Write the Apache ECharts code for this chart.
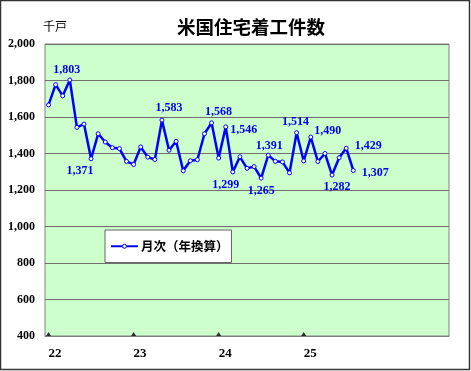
<!DOCTYPE html>
<html>
<head>
<meta charset="utf-8">
<script src="https://cdn.jsdelivr.net/npm/echarts@6/dist/echarts.min.js"></script>
<style>
html,body{margin:0;padding:0;background:#fff;}
#c{width:471px;height:371px;}
</style>
</head>
<body>
<div id="c"></div>
<script>
// ---- data ----
const months = [
  '22/1','22/2','22/3','22/4','22/5','22/6','22/7','22/8','22/9','22/10','22/11','22/12',
  '23/1','23/2','23/3','23/4','23/5','23/6','23/7','23/8','23/9','23/10','23/11','23/12',
  '24/1','24/2','24/3','24/4','24/5','24/6','24/7','24/8','24/9','24/10','24/11','24/12',
  '25/1','25/2','25/3','25/4','25/5','25/6','25/7','25/8'
];
const starts = [
  1666,1777,1716,1803,1543,1561,1371,1508,1463,1432,1427,1357,
  1340,1436,1380,1367,1583,1418,1467,1305,1360,1366,1508,1568,
  1375,1546,1299,1382,1319,1328,1265,1391,1357,1354,1294,1514,
  1359,1490,1356,1400,1282,1377,1429,1307
];
const emptySlots = ['25/9','25/10','25/11','25/12','26/1','26/2','26/3','26/4','26/5','26/6','26/7','26/8','26/9'];
const yearTicks = ['22/1','23/1','24/1','25/1'];
const yearLabels = {'22/1':'22','23/1':'23','24/1':'24','25/1':'25'};
const seriesName = '月次（年換算）';
const titleText = '米国住宅着工件数';
const unitText = '千戸';
const yMin = 400, yMax = 2000, yStep = 200;

// label placement (offset from point, px) for the annotated months
const labelOffsets = {
  3:[-3,-10], 6:[-11,12], 16:[7,-12], 23:[7,-11], 25:[18,3], 26:[-7,13],
  30:[0,13], 31:[1,-9], 35:[-1,-11], 37:[17,-6], 40:[5,12], 42:[22,-2], 43:[22,2]
};

const categories = months.concat(emptySlots);
const fmt = v => v.toLocaleString('en-US');

const lineData = starts.map((v,i) => {
  const off = labelOffsets[i];
  if (!off) return v;
  return {value:v, label:{show:true, position:'inside', offset:off, formatter: p => fmt(p.value)}};
});

const chart = echarts.init(document.getElementById('c'), null, {renderer:'canvas'});
const serif = '"Liberation Serif","Times New Roman",serif';
const cjk = '"Noto Sans CJK JP","Noto Sans CJK SC",sans-serif';

chart.setOption({
  animation:false,
  backgroundColor:'#ffffff',
  title:{
    text:titleText, left:172, top:13,
    textStyle:{fontFamily:cjk, fontSize:18.5, fontWeight:'bold', color:'#000'}
  },
  graphic:[
    {type:'rect', shape:{x:0.5,y:0.5,width:469,height:369}, style:{fill:null, stroke:'#333', lineWidth:1.5}, silent:true},
    {type:'text', left:43, top:20, style:{text:unitText, font:'12px '+cjk, fill:'#000'}}
  ],
  legend:{
    left:105, top:230,
    data:[{name:seriesName,
      itemStyle:{color:'#ffffff', borderColor:'#0000ff', borderWidth:1},
      lineStyle:{color:'#0000ff', width:2}}],
    backgroundColor:'#fff', borderColor:'#666', borderWidth:1,
    padding:[10,3,10,5], itemWidth:27, itemHeight:5, itemGap:0,
    textStyle:{fontFamily:cjk, fontSize:12.5, fontWeight:'bold', color:'#000', padding:[0,0,0,-2]}
  },
  grid:{left:45, right:22, top:44, bottom:35, show:true, backgroundColor:'#ccffcc', borderColor:'#808080', borderWidth:1},
  xAxis:{
    type:'category', data:categories, boundaryGap:true,
    axisLine:{show:true, lineStyle:{color:'#808080', width:1}},
    axisTick:{show:false},
    axisLabel:{interval:0, margin:11, align:'left', fontFamily:serif, fontSize:13, fontWeight:'bold', color:'#000',
      formatter: v => yearLabels[v] || ''}
  },
  yAxis:{
    type:'value', min:yMin, max:yMax, interval:yStep,
    axisLine:{show:false}, axisTick:{show:false},
    splitLine:{lineStyle:{color:'#707070', width:1}},
    axisLabel:{margin:10, fontFamily:serif, fontSize:12, fontWeight:'bold', color:'#000', formatter: v => fmt(v)}
  },
  series:[
    {
      name:seriesName, type:'line', data:lineData,
      symbol:'circle', symbolSize:4, showSymbol:true,
      lineStyle:{color:'#0000ff', width:2.5},
      itemStyle:{color:'#ffffff', borderColor:'#0000ff', borderWidth:1},
      label:{show:false, color:'#0000ee', fontFamily:serif, fontSize:12, fontWeight:'bold'},
      z:3
    },
    {
      name:'ticks', type:'scatter', data:yearTicks.map(m => [m, yMin]),
      symbol:'triangle', symbolSize:[5,4], symbolOffset:[0,-2],
      itemStyle:{color:'#000'}, silent:true, z:4
    }
  ]
});
</script>
</body>
</html>
